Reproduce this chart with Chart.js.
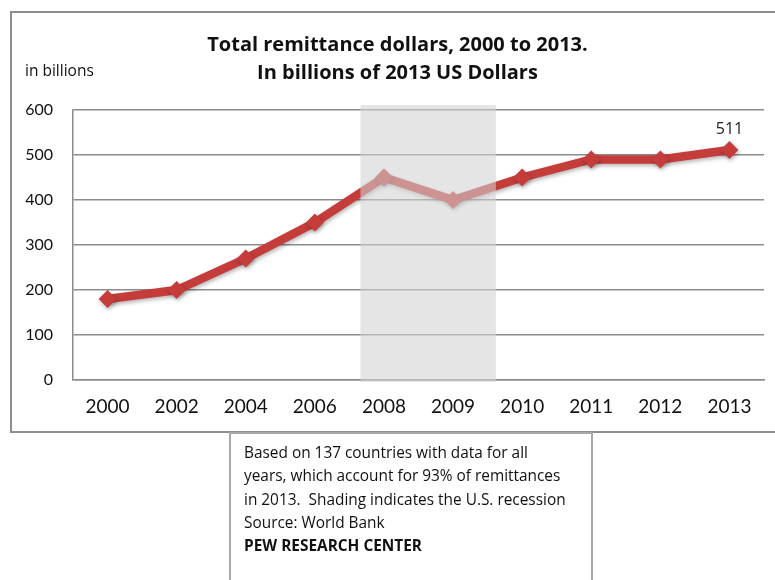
<!DOCTYPE html>
<html>
<head>
<meta charset="utf-8">
<script src="https://cdn.jsdelivr.net/npm/chart.js@4.4.1/dist/chart.umd.min.js"></script>
<style>
  body { margin: 0; background: #fff; font-family: "Open Sans", Lato, sans-serif; }
  #wrap { position: relative; width: 775px; height: 580px; overflow: hidden; }
  #frame { position: absolute; left: 10px; top: 11px; width: 800px; height: 418px; border: 2px solid #8e8e8e; }
  #chart { position: absolute; left: 0; top: 0; }
  #title { position: absolute; left: 0; width: 795px; top: 30px; text-align: center; font-weight: bold; font-size: 20px; line-height: 28px; color: #111; }
  #unit { position: absolute; left: 25px; top: 59px; font-size: 15.5px; color: #111; }
  #note { position: absolute; left: 229px; top: 432px; width: 364px; height: 160px; border: 2px solid #a8a8a8; box-sizing: border-box; padding: 7px 0 0 13px; font-size: 15.4px; line-height: 23.3px; color: #111; }
</style>
</head>
<body>
<div id="wrap">
  <div id="frame"></div>
  <canvas id="chart" width="775" height="580"></canvas>
  <div id="title">Total remittance dollars, 2000 to 2013.<br>In billions of 2013 US Dollars</div>
  <div id="unit">in billions</div>
  <div id="note">Based on 137 countries with data for all<br>years, which account for 93% of remittances<br>in 2013.&nbsp; Shading indicates the U.S. recession<br>Source: World Bank<br><b>PEW RESEARCH CENTER</b></div>
</div>
<script>
// data
const years = ["2000", "2002", "2004", "2006", "2008", "2009", "2010", "2011", "2012", "2013"];
const remittances = [180, 200, 270, 350, 450, 400, 450, 490, 490, 511];
const yTicks = [0, 100, 200, 300, 400, 500, 600];
// recession shading, in category index units
const recessionStart = 3.66;
const recessionEnd = 5.62;

const lineColor = "#c43d3b";

const ctx = document.getElementById("chart");

// soft shadow under the line, like the office chart
const shadowPlugin = {
    id: "shadow",
    beforeDatasetsDraw(chart) {
        chart.ctx.save();
        chart.ctx.shadowColor = "rgba(0,0,0,0.3)";
        chart.ctx.shadowBlur = 4;
        chart.ctx.shadowOffsetX = 1;
        chart.ctx.shadowOffsetY = 2;
    },
    afterDatasetsDraw(chart) {
        chart.ctx.restore();
    }
};

// grey box over the line for the recession, then the last value label
const recessionPlugin = {
    id: "recession",
    afterDatasetsDraw(chart) {
        const c = chart.ctx;
        const x = chart.scales.x;
        const x1 = x.getPixelForValue(recessionStart);
        const x2 = x.getPixelForValue(recessionEnd);
        c.save();
        c.fillStyle = "rgba(210,210,210,0.58)";
        c.fillRect(x1, chart.chartArea.top - 5, x2 - x1, chart.chartArea.bottom - chart.chartArea.top + 7);

        const last = chart.getDatasetMeta(0).data[remittances.length - 1];
        c.fillStyle = "#222";
        c.font = "16px 'Open Sans'";
        c.textAlign = "center";
        c.textBaseline = "alphabetic";
        c.fillText(String(remittances[remittances.length - 1]), last.x, last.y - 16);
        c.restore();
    }
};

new Chart(ctx, {
    type: "line",
    data: {
        labels: years,
        datasets: [{
            data: remittances,
            borderColor: lineColor,
            backgroundColor: lineColor,
            borderWidth: 8.5,
            pointStyle: "rectRot",
            pointRadius: 9,
            pointHoverRadius: 9,
            pointBorderWidth: 0,
            tension: 0,
        }]
    },
    options: {
        responsive: false,
        animation: false,
        events: [],
        layout: {
            padding: { top: 110, left: 0, right: 11, bottom: 150 }
        },
        plugins: {
            legend: { display: false },
            tooltip: { enabled: false },
            title: { display: false }
        },
        scales: {
            x: {
                offset: true,
                grid: { display: false, drawTicks: false },
                border: { display: true, color: "#8c8c8c", width: 1.5 },
                ticks: {
                    color: "#111",
                    padding: 15,
                    font: { family: "Lato", size: 19 }
                },
                afterFit(scale) { scale.height = 50; }
            },
            y: {
                min: 0,
                max: 600,
                afterBuildTicks(scale) { scale.ticks = yTicks.map(v => ({ value: v })); },
                grid: { color: "#8c8c8c", lineWidth: 1.5, drawTicks: false },
                border: { display: true, color: "#8c8c8c", width: 1.5 },
                ticks: {
                    color: "#111",
                    padding: 20,
                    font: { family: "Lato", size: 16 }
                },
                afterFit(scale) { scale.width = 73; }
            }
        }
    },
    plugins: [shadowPlugin, recessionPlugin]
});
</script>
</body>
</html>
